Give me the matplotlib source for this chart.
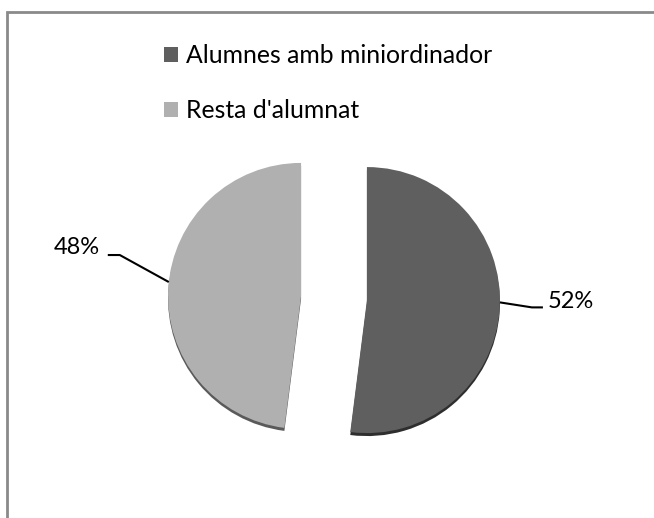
import numpy as np
import matplotlib
matplotlib.use("Agg")
import matplotlib.pyplot as plt
from matplotlib.patches import Rectangle

# ---- data ----
categories = ["Alumnes amb miniordinador", "Resta d'alumnat"]
shares = [52, 48]
pct_labels = ["52%", "48%"]
colors = ["#5f5f5f", "#b0b0b0"]
shadow_colors = ["#2e2e2e", "#5a5a5a"]

plt.rcParams['font.family'] = ['Lato', 'DejaVu Sans']

W, H = 654, 518
fig = plt.figure(figsize=(W / 100, H / 100), dpi=100)
ax = fig.add_axes([0, 0, 1, 1])

center = (334, H - 298)
radius = 133
expl = [33, 33]

# dark rim underneath, gives the flat 3d look
ax.pie(shares, colors=shadow_colors, startangle=90, counterclock=False,
       radius=radius, center=(center[0], center[1] - 3), explode=expl,
       wedgeprops=dict(linewidth=0))
wedges, _ = ax.pie(shares, colors=colors, startangle=90, counterclock=False,
                   radius=radius, center=center, explode=expl,
                   wedgeprops=dict(linewidth=0))

ax.set_xlim(0, W)
ax.set_ylim(0, H)
ax.set_aspect('equal')
ax.axis('off')

# chart frame (cut off on right and bottom)
ax.add_patch(Rectangle((7, -20), W + 20, H - 12 + 20, fill=False,
                       edgecolor="#8a8a8a", linewidth=2))

# data labels with leader lines
# (angle on the wedge where the line starts, elbow offset, end offset, text pos)
label_cfg = [
    (-1, (32, -5), (43, -5), (548, H - 301), 'left'),
    (174, (-49, 27), (-61, 27), (100, H - 247), 'right'),
]
for w, txt, (ang, elbow, end, tpos, ha) in zip(wedges, pct_labels, label_cfg):
    cx, cy = w.center
    ax0 = cx + w.r * np.cos(np.radians(ang))
    ay0 = cy + w.r * np.sin(np.radians(ang))
    xs = [ax0, ax0 + elbow[0], ax0 + end[0]]
    ys = [ay0, ay0 + elbow[1], ay0 + end[1]]
    ax.plot(xs, ys, color='black', linewidth=1.5, solid_capstyle='butt')
    ax.text(tpos[0], tpos[1], txt, ha=ha, va='center', fontsize=17, color='black')

leg = ax.legend(wedges, categories, loc='upper left',
                bbox_to_anchor=(164 / W, 1 - 44 / H), frameon=False,
                fontsize=17.8, handlelength=0.57, handleheight=0.57,
                handletextpad=0.3, labelspacing=1.3, borderpad=0,
                borderaxespad=0)

fig.savefig("out.png", dpi=100)
